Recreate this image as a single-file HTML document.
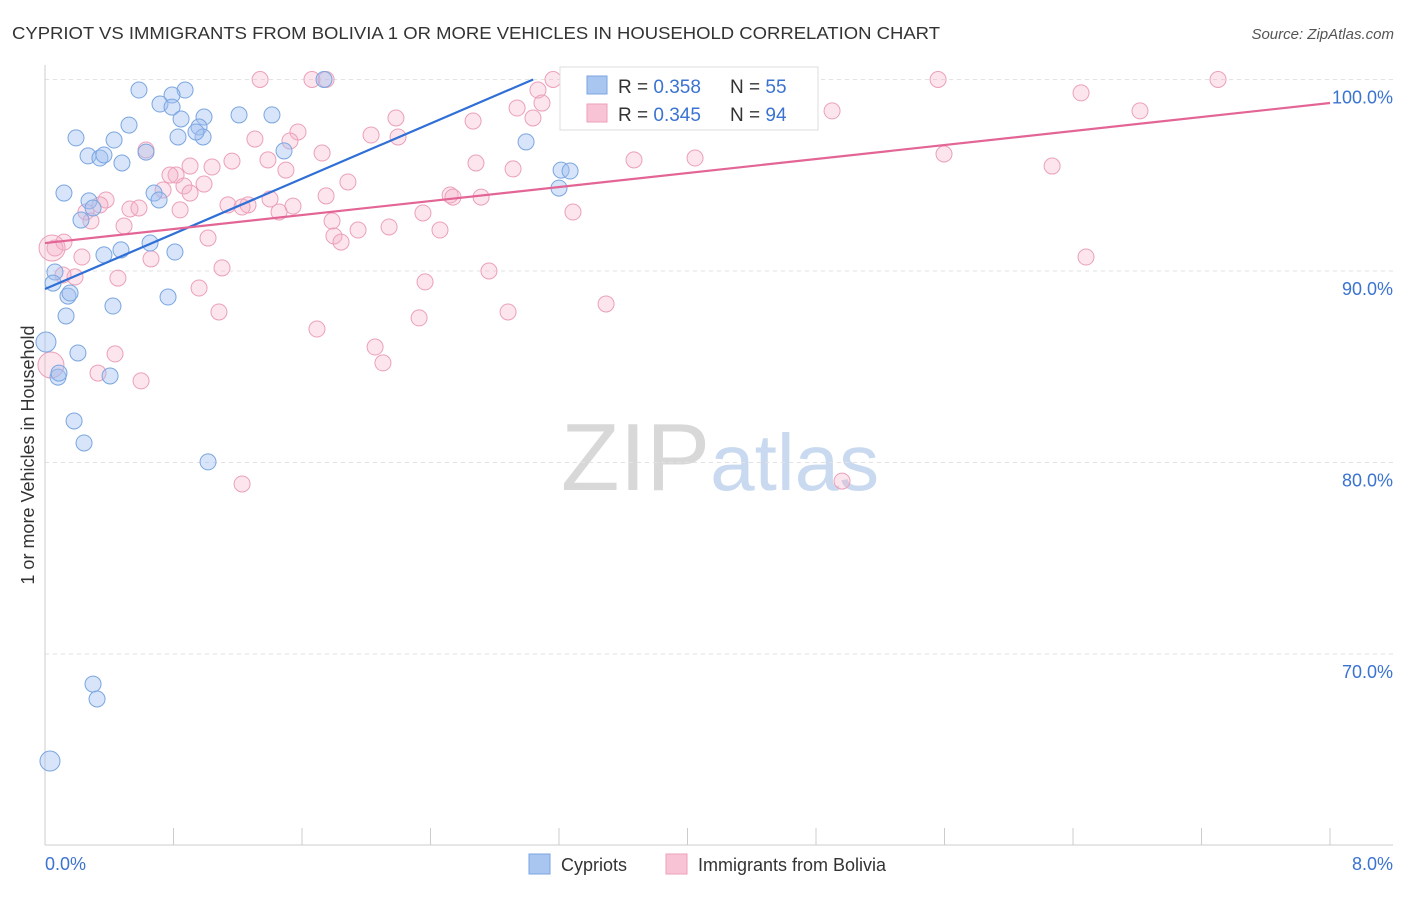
<!DOCTYPE html>
<html><head><meta charset="utf-8"><style>
body{margin:0;background:#fff;font-family:"Liberation Sans",sans-serif;}
svg text{font-family:"Liberation Sans",sans-serif;}
</style></head><body>
<svg id="chart" width="1406" height="892" xmlns="http://www.w3.org/2000/svg">
<text x="12" y="39" font-size="17.5" fill="#333" textLength="928" lengthAdjust="spacingAndGlyphs">CYPRIOT VS IMMIGRANTS FROM BOLIVIA 1 OR MORE VEHICLES IN HOUSEHOLD CORRELATION CHART</text>
<text x="1394" y="39" font-size="15" fill="#555" text-anchor="end" font-style="italic">Source: ZipAtlas.com</text>
<text x="720" y="490" font-size="96" fill="#ddd" text-anchor="middle" font-family="Liberation Serif"><tspan fill="#d8d8d8">ZIP</tspan><tspan fill="#c9d9ef" font-family="Liberation Sans" font-size="80">atlas</tspan></text>
<text transform="translate(34,455) rotate(-90)" font-size="18" fill="#333" text-anchor="middle">1 or more Vehicles in Household</text>
<g id="grid"></g><g id="axes"></g><g id="pinkPts"></g><g id="bluePts"></g><g id="lines"></g>
<g>
<rect x="560" y="67" width="258" height="63" fill="#fff" stroke="#ddd"/>
<rect x="587" y="76" width="20" height="18" fill="#a9c6f0" stroke="#7aa6e0"/>
<text x="618" y="93" font-size="19" fill="#333">R = <tspan fill="#3a73d0">0.358</tspan></text>
<text x="730" y="93" font-size="19" fill="#333">N = <tspan fill="#3a73d0">55</tspan></text>
<rect x="587" y="104" width="20" height="18" fill="#f8c3d4" stroke="#eba0ba"/>
<text x="618" y="121" font-size="19" fill="#333">R = <tspan fill="#3a73d0">0.345</tspan></text>
<text x="730" y="121" font-size="19" fill="#333">N = <tspan fill="#3a73d0">94</tspan></text>
</g>
<g>
<rect x="529" y="854" width="21" height="20" fill="#a9c6f0" stroke="#7aa6e0"/>
<text x="561" y="871" font-size="18" fill="#333">Cypriots</text>
<rect x="666" y="854" width="21" height="20" fill="#f8c3d4" stroke="#eba0ba"/>
<text x="698" y="871" font-size="18" fill="#333">Immigrants from Bolivia</text>
</g>
</svg>
<script>
const yTicks=[100,90,80,70];
const xTickLabels=["0.0%","8.0%"];
const blueX=[0.585,0.872,0.791,0.716,0.791,0.990,0.847,0.959,0.828,0.984,0.940,0.193,0.430,0.523,1.208,1.413,0.268,0.342,0.367,0.479,0.629,1.488,0.118,0.679,0.710,0.274,0.299,0.224,0.654,0.473,0.367,0.809,0.062,0.050,0.143,0.156,0.423,0.766,0.131,0.205,0.081,0.087,0.405,0.181,0.243,1.015,0.006,0.299,0.324,0.031,1.737,2.995,3.213,3.269,3.200];
const blueY=[99.45,99.45,99.19,98.72,98.56,98.04,97.94,97.52,97.0,97.0,97.26,96.95,96.84,97.62,98.15,98.15,96.01,95.9,96.06,95.64,96.21,96.27,94.07,94.07,93.71,93.66,93.29,92.66,91.46,91.10,90.84,90.99,89.95,89.37,88.69,88.85,88.17,88.64,87.65,85.72,84.46,84.67,84.52,82.17,81.02,80.03,86.29,68.43,67.65,64.41,100.0,96.74,95.27,95.22,94.33];
const pinkX=[1.339,1.662,1.750,3.163,4.327,5.560,7.303,3.069,6.450,6.817,4.900,2.939,3.094,3.038,2.185,2.030,2.198,1.575,1.525,1.307,2.665,1.725,0.629,1.164,1.388,1.500,0.903,1.040,0.816,0.778,0.865,0.990,0.735,0.903,1.886,2.683,2.914,3.667,4.047,5.597,6.270,1.750,2.522,2.540,2.715,1.401,1.139,1.264,0.380,0.529,0.585,0.342,0.255,0.841,1.544,1.227,1.457,2.353,3.287,0.492,0.286,1.787,1.949,2.142,2.459,1.799,1.843,1.015,0.118,0.062,0.660,0.230,1.102,0.187,0.454,2.764,0.959,2.366,3.493,1.083,2.883,2.329,1.693,2.055,2.104,0.436,0.330,0.598,1.227,4.962,6.481,0.037,0.044,0.112];
const pinkY=[100,100,100,100,100,100,100,99.45,99.30,98.36,98.36,98.51,98.77,97.99,97.99,97.10,97.0,97.26,96.79,96.89,97.83,96.16,96.32,95.74,95.8,95.27,95.48,95.43,95.01,95.01,94.44,94.54,94.23,94.07,94.65,95.64,95.33,95.8,95.9,96.11,95.48,93.92,93.97,93.86,93.86,93.76,93.45,93.45,93.71,93.24,93.29,93.45,93.08,93.19,93.39,93.34,93.08,93.03,93.08,92.35,92.61,92.61,92.14,92.3,92.14,91.83,91.51,91.72,91.51,91.2,90.63,90.73,90.16,89.69,89.63,90.0,89.11,89.43,88.28,87.86,87.86,87.55,86.97,86.03,85.2,85.67,84.67,84.26,78.88,79.03,90.73,85.09,91.2,89.79];
const blueFit=[89.06,3.60];
const pinkFit=[91.46,0.914];
const NS="http://www.w3.org/2000/svg";
const X0=45,X1=1330,XMAX=8,Y100=79.5,PER=19.15;
const sx=v=>X0+(v/XMAX)*(X1-X0);
const sy=v=>Y100+(100-v)*PER;
function mk(tag,attrs,parent){const e=document.createElementNS(NS,tag);for(const k in attrs)e.setAttribute(k,attrs[k]);parent.appendChild(e);return e;}
const grid=document.getElementById('grid'),axes=document.getElementById('axes');
yTicks.forEach(t=>{
 const l=mk('line',{x1:X0,x2:1393,y1:sy(t),y2:sy(t),stroke:'#e2e2e2','stroke-dasharray':'4 4'},grid);
 
 
 const tx=mk('text',{x:1393,y:sy(t)+24,'font-size':18,fill:'#3a73d0','text-anchor':'end'},grid);
 tx.textContent=t.toFixed(1)+'%';
 
 
});
mk('line',{x1:X0,x2:X0,y1:65,y2:845,stroke:'#ccc'},axes);
mk('line',{x1:X0,x2:1393,y1:845,y2:845,stroke:'#ccc'},axes);
for(let i=0;i<=10;i++){
 const x=sx(i*0.8);
 const t=mk('line',{x1:x,x2:x,y1:828,y2:845,stroke:'#ccc'},axes);
 
 
}
const xl0=mk('text',{x:45,y:870,'font-size':18,fill:'#3a73d0'},axes);xl0.textContent=xTickLabels[0];


const xl1=mk('text',{x:1393,y:870,'font-size':18,fill:'#3a73d0','text-anchor':'end'},axes);xl1.textContent=xTickLabels[1];


const pg=document.getElementById('pinkPts');
pinkX.forEach((v,i)=>{
 const big=i>=pinkX.length-3&&i<pinkX.length-1;
 const c=mk('circle',{cx:sx(v),cy:sy(pinkY[i]),r:big?13:8,fill:'rgba(246,175,200,0.32)',stroke:'#eba0ba','stroke-width':1},pg);
 
 
});
const bg=document.getElementById('bluePts');
blueX.forEach((v,i)=>{
 const c=mk('circle',{cx:sx(v),cy:sy(blueY[i]),r:(i==46||i==49)?10:8,fill:'rgba(160,190,240,0.42)',stroke:'#7aa6e0','stroke-width':1},bg);
 
 
});
const lg=document.getElementById('lines');
const bEnd=(100-blueFit[0])/blueFit[1];
const bl=mk('line',{x1:sx(0),y1:sy(blueFit[0]),x2:sx(bEnd),y2:sy(100),stroke:'#2f6fd6','stroke-width':2.2},lg);


const pl=mk('line',{x1:sx(0),y1:sy(pinkFit[0]),x2:sx(8),y2:sy(pinkFit[0]+8*pinkFit[1]),stroke:'#e36595','stroke-width':2.2},lg);


</script>
</body></html>
